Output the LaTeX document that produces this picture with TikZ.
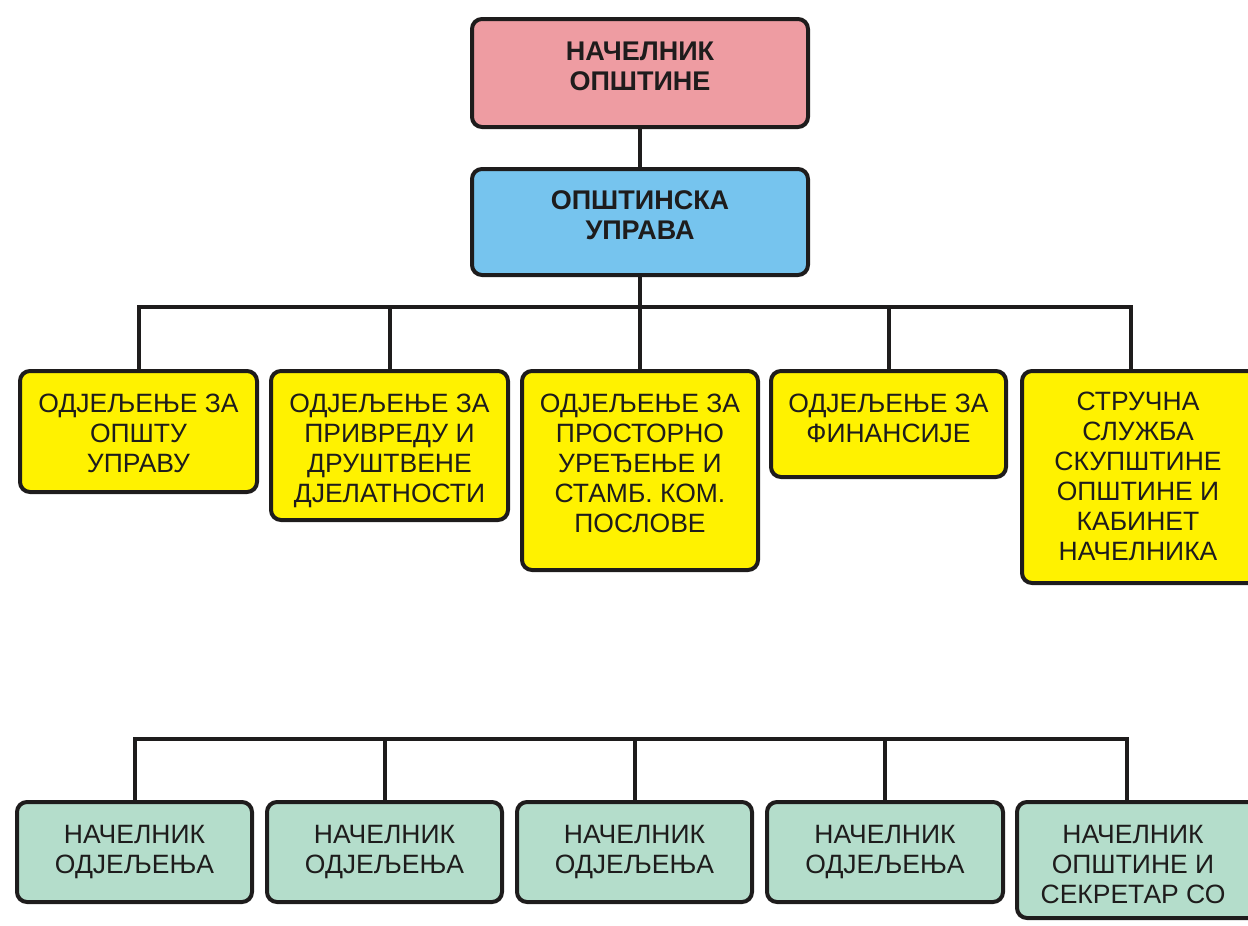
\documentclass[tikz,border=0pt]{standalone}
\usepackage{fontspec}
\setmainfont{Liberation Sans}
\usetikzlibrary{calc}
\definecolor{pinkfill}{RGB}{238,156,162}
\definecolor{bluefill}{RGB}{118,196,238}
\definecolor{yellowfill}{RGB}{255,242,0}
\definecolor{greenfill}{RGB}{180,221,203}
\definecolor{ink}{RGB}{30,28,28}
\tikzset{
  box/.style={draw=ink, line width=4pt, rounded corners=10pt, inner sep=0pt, anchor=north west},
  conn/.style={draw=ink, line width=4pt, line join=miter},
  lbl/.style={text=ink, align=center, inner sep=0pt, anchor=north, font=\fontsize{26.5}{30}\selectfont},
  toplbl/.style={text=ink, align=center, inner sep=0pt, anchor=north, font=\bfseries\fontsize{27}{30}\selectfont}
}
\begin{document}
\begin{tikzpicture}[x=1pt,y=-1pt]
\useasboundingbox (0,0) rectangle (1248,926);
% top boxes
\node[box, fill=pinkfill, minimum width=336pt, minimum height=108pt] (nach) at (470,17) {};
\node[box, fill=bluefill, minimum width=336pt, minimum height=106pt] (uprava) at (470,167) {};
\node[toplbl] (tnach) at ($(nach.north)+(0,24.5)$) {НАЧЕЛНИК\\ОПШТИНЕ};
\node[toplbl] (tuprava) at ($(uprava.north)+(0,23.5)$) {ОПШТИНСКА\\УПРАВА};
% department boxes
\node[box, fill=yellowfill, minimum width=237pt, minimum height=121pt] (d1) at (18,369) {};
\node[box, fill=yellowfill, minimum width=237pt, minimum height=149pt] (d2) at (269,369) {};
\node[box, fill=yellowfill, minimum width=236pt, minimum height=199pt] (d3) at (520,369) {};
\node[box, fill=yellowfill, minimum width=235pt, minimum height=106pt] (d4) at (769,369) {};
\node[box, fill=yellowfill, minimum width=240pt, minimum height=212pt] (d5) at (1020,369) {};
\node[lbl] (td1) at ($(d1.north)+(0,25)$) {ОДЈЕЉЕЊЕ ЗА\\ОПШТУ\\УПРАВУ};
\node[lbl] (td2) at ($(d2.north)+(0,25)$) {ОДЈЕЉЕЊЕ ЗА\\ПРИВРЕДУ И\\ДРУШТВЕНЕ\\ДЈЕЛАТНОСТИ};
\node[lbl] (td3) at ($(d3.north)+(0,25)$) {ОДЈЕЉЕЊЕ ЗА\\ПРОСТОРНО\\УРЕЂЕЊЕ И\\СТАМБ. КОМ.\\ПОСЛОВЕ};
\node[lbl] (td4) at ($(d4.north)+(0,25)$) {ОДЈЕЉЕЊЕ ЗА\\ФИНАНСИЈЕ};
\node[lbl] (td5) at ($(d5.north west)+(118,23)$) {СТРУЧНА\\СЛУЖБА\\СКУПШТИНЕ\\ОПШТИНЕ И\\КАБИНЕТ\\НАЧЕЛНИКА};
% head boxes
\node[box, fill=greenfill, minimum width=235pt, minimum height=100pt] (h1) at (15,800) {};
\node[box, fill=greenfill, minimum width=235pt, minimum height=100pt] (h2) at (265,800) {};
\node[box, fill=greenfill, minimum width=235pt, minimum height=100pt] (h3) at (515,800) {};
\node[box, fill=greenfill, minimum width=236pt, minimum height=100pt] (h4) at (765,800) {};
\node[box, fill=greenfill, minimum width=245pt, minimum height=116pt] (h5) at (1015,800) {};
\node[lbl] (th1) at ($(h1.north)+(0,25)$) {НАЧЕЛНИК\\ОДЈЕЉЕЊА};
\node[lbl] (th2) at ($(h2.north)+(0,25)$) {НАЧЕЛНИК\\ОДЈЕЉЕЊА};
\node[lbl] (th3) at ($(h3.north)+(0,25)$) {НАЧЕЛНИК\\ОДЈЕЉЕЊА};
\node[lbl] (th4) at ($(h4.north)+(0,25)$) {НАЧЕЛНИК\\ОДЈЕЉЕЊА};
\node[lbl] (th5) at ($(h5.north west)+(118,25)$) {НАЧЕЛНИК\\ОПШТИНЕ И\\СЕКРЕТАР СО};
% connectors
\coordinate (busA) at (0,307);
\coordinate (busB) at (0,739);
\coordinate (d5top) at ($(d5.north west)+(111,0)$);
\coordinate (h5top) at ($(h5.north west)+(112,0)$);
\draw[conn] (nach.south) -- (uprava.north);
\draw[conn] (uprava.south) -- (uprava.south |- d3.north);
\draw[conn] (d1.north) -- (d1.north |- busA) -- (d5top |- busA) -- (d5top);
\draw[conn] (d2.north) -- (d2.north |- busA);
\draw[conn] (d4.north) -- (d4.north |- busA);
\draw[conn] (h1.north) -- (h1.north |- busB) -- (h5top |- busB) -- (h5top);
\draw[conn] (h2.north) -- (h2.north |- busB);
\draw[conn] (h3.north) -- (h3.north |- busB);
\draw[conn] (h4.north) -- (h4.north |- busB);
\end{tikzpicture}
\end{document}
